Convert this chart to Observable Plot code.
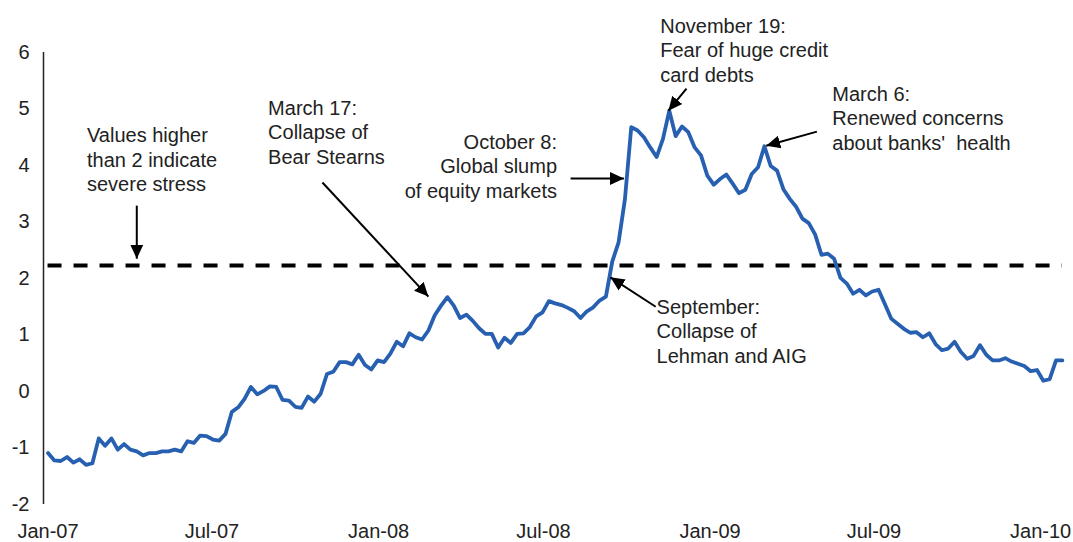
<!DOCTYPE html>
<html>
<head>
<meta charset="utf-8">
<script src="https://cdn.jsdelivr.net/npm/d3@7"></script>
<script src="https://cdn.jsdelivr.net/npm/@observablehq/plot@0.6"></script>
<style>
  html, body { margin: 0; padding: 0; background: #fff; }
</style>
</head>
<body>
<div id="chart"></div>
<script>
// ---- data (weekly financial stress index) ----
const firstWeek = "2007-01-01";
const stressValues = [
  -1.09, -1.22, -1.23, -1.16, -1.26, -1.20, -1.30, -1.27, -0.83, -0.96,
  -0.83, -1.03, -0.93, -1.03, -1.06, -1.13, -1.09, -1.09, -1.06, -1.06,
  -1.03, -1.06, -0.88, -0.91, -0.78, -0.79, -0.85, -0.87, -0.75, -0.36,
  -0.28, -0.13, 0.08, -0.05, 0.01, 0.09, 0.08, -0.15, -0.16, -0.27,
  -0.29, -0.09, -0.18, -0.04, 0.31, 0.35, 0.52, 0.52, 0.48, 0.65,
  0.47, 0.39, 0.55, 0.52, 0.67, 0.88, 0.80, 1.03, 0.96, 0.92,
  1.08, 1.35, 1.52, 1.67, 1.52, 1.30, 1.36, 1.25, 1.12, 1.02,
  1.02, 0.78, 0.95, 0.86, 1.02, 1.03, 1.14, 1.33, 1.40, 1.60,
  1.56, 1.53, 1.48, 1.42, 1.30, 1.42, 1.49, 1.61, 1.68, 2.30,
  2.64, 3.40, 4.68, 4.62, 4.50, 4.32, 4.15, 4.47, 4.97, 4.52,
  4.69, 4.59, 4.32, 4.18, 3.82, 3.66, 3.76, 3.84, 3.68, 3.51,
  3.57, 3.85, 3.97, 4.34, 3.99, 3.91, 3.58, 3.41, 3.27, 3.06,
  2.98, 2.78, 2.42, 2.44, 2.35, 2.01, 1.91, 1.73, 1.80, 1.70,
  1.77, 1.80, 1.55, 1.29, 1.20, 1.11, 1.04, 1.05, 0.96, 1.03,
  0.84, 0.73, 0.76, 0.88, 0.70, 0.58, 0.63, 0.82, 0.65, 0.55,
  0.55, 0.59, 0.53, 0.49, 0.45, 0.36, 0.38, 0.19, 0.22, 0.55,
  0.55
];
const stressThreshold = 2.23;
const yTicks = [-2, -1, 0, 1, 2, 3, 4, 5, 6];
const xTickDates = ["2007-01-01", "2007-07-01", "2008-01-01", "2008-07-01", "2009-01-01", "2009-07-01", "2010-01-01"];
const xDomain = ["2006-12-27", "2010-02-03"];
const yDomain = [-2, 6];

// annotations
const noteTexts = [
  "Values higher\nthan 2 indicate\nsevere stress",
  "March 17:\nCollapse of\nBear Stearns",
  "October 8:\nGlobal slump\nof equity markets",
  "November 19:\nFear of huge credit\ncard debts",
  "March 6:\nRenewed concerns\nabout banks'\u00a0 health",
  "September:\nCollapse of\nLehman and AIG"
];
const noteDates = ["2007-02-13", "2007-09-01", "2008-07-16", "2008-11-07", "2009-05-16", "2008-11-03"];
const noteValues = [4.12, 4.60, 4.00, 6.05, 4.85, 1.08];
const noteAnchors = ["start", "start", "end", "start", "start", "start"];

const arrowFromDates = ["2007-04-09", "2007-10-31", "2008-07-31", "2008-12-06", "2009-04-29", "2008-11-02"];
const arrowFromValues = [3.29, 3.70, 3.77, 5.36, 4.60, 1.50];
const arrowToDates = ["2007-04-09", "2008-02-25", "2008-09-28", "2008-11-16", "2009-03-04", "2008-09-13"];
const arrowToValues = [2.35, 1.68, 3.77, 4.97, 4.35, 2.02];

// ---- tables built from the arrays ----
const series = stressValues.map((v, i) => ({
  date: d3.utcDay.offset(new Date(firstWeek), 7 * i),
  value: v
}));
const notes = noteTexts.map((t, i) => ({
  text: t, date: new Date(noteDates[i]), value: noteValues[i], anchor: noteAnchors[i]
}));
const arrows = arrowFromDates.map((d, i) => ({
  x1: new Date(d), y1: arrowFromValues[i],
  x2: new Date(arrowToDates[i]), y2: arrowToValues[i]
}));

const filledHead = (color) =>
  d3.create("svg:marker")
    .attr("viewBox", "-14 -7 14 14")
    .attr("markerUnits", "userSpaceOnUse")
    .attr("markerWidth", 14)
    .attr("markerHeight", 14)
    .attr("orient", "auto")
    .attr("fill", color)
    .attr("stroke", "none")
    .call(m => m.append("path").attr("d", "M-14,-6.5L0,0L-14,6.5Z"))
    .node();

const FONT = 20;
const TEXT_COLOR = "#222";

const chart = Plot.plot({
  width: 1073,
  height: 542,
  marginLeft: 43,
  marginRight: 3,
  marginTop: 52,
  marginBottom: 38,
  style: { fontFamily: "'Liberation Sans', Arial, sans-serif", fontSize: FONT + "px", color: TEXT_COLOR, background: "#fff" },
  x: { type: "utc", domain: xDomain.map(d => new Date(d)) },
  y: { domain: yDomain },
  marks: [
    Plot.axisX({
      ticks: xTickDates.map(d => new Date(d)),
      tickFormat: d3.utcFormat("%b-%y"),
      tickSize: 0, tickPadding: 19, fontSize: FONT, label: null, fill: TEXT_COLOR
    }),
    Plot.axisY({
      ticks: yTicks, tickFormat: d => String(d),
      tickSize: 0, tickPadding: 14, fontSize: FONT, label: null, fill: TEXT_COLOR
    }),
    Plot.ruleX([new Date(xDomain[0])], { y1: yDomain[0], y2: yDomain[1], stroke: "#222", strokeWidth: 1.5 }),
    Plot.ruleY([stressThreshold], {
      x1: series[0].date, x2: series[series.length - 1].date,
      stroke: "#000", strokeWidth: 4, strokeDasharray: "14,12"
    }),
    Plot.lineY(series, { x: "date", y: "value", stroke: "#2760b0", strokeWidth: 3.8 }),
    Plot.link(arrows, {
      x1: "x1", y1: "y1", x2: "x2", y2: "y2",
      stroke: "#000", strokeWidth: 2, strokeLinecap: "butt", markerEnd: filledHead
    }),
    Plot.text(notes.filter(d => d.anchor === "start"), {
      x: "date", y: "value", text: "text", textAnchor: "start", lineAnchor: "middle",
      lineHeight: 1.22, fontSize: FONT, fill: TEXT_COLOR
    }),
    Plot.text(notes.filter(d => d.anchor === "end"), {
      x: "date", y: "value", text: "text", textAnchor: "end", lineAnchor: "middle",
      lineHeight: 1.22, fontSize: FONT, fill: TEXT_COLOR
    })
  ]
});
document.getElementById("chart").append(chart);
</script>
</body>
</html>
